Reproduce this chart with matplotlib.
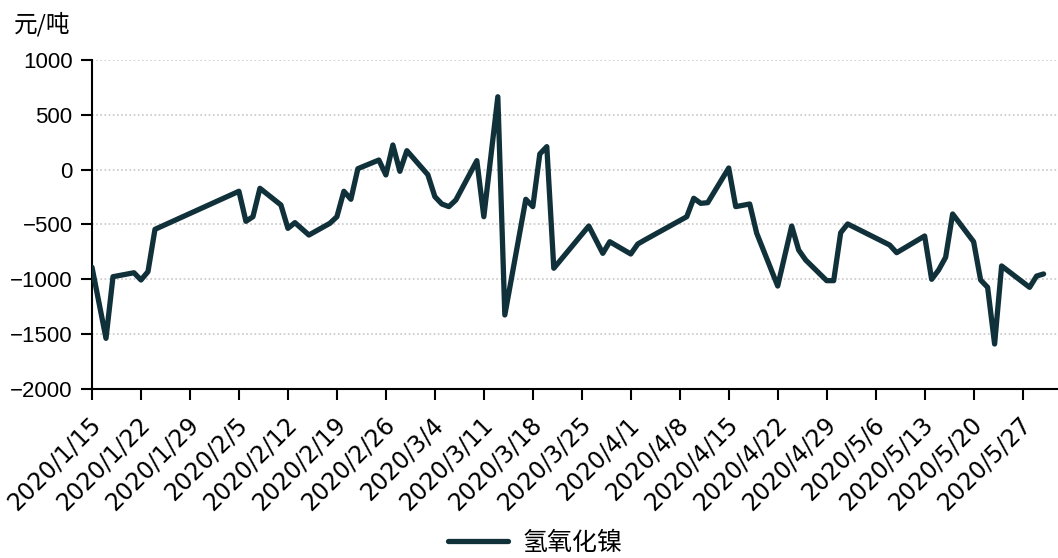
import matplotlib
matplotlib.use("Agg")
import matplotlib.pyplot as plt
import matplotlib.dates as mdates
import matplotlib.ticker as mticker
import matplotlib.transforms as mtransforms
import pandas as pd

# 氢氧化镍 价差 (元/吨)
dates = [
    "2020-01-15", "2020-01-17", "2020-01-18", "2020-01-21", "2020-01-22",
    "2020-01-23", "2020-01-24", "2020-02-05", "2020-02-06", "2020-02-07",
    "2020-02-08", "2020-02-11", "2020-02-12", "2020-02-13", "2020-02-15",
    "2020-02-18", "2020-02-19", "2020-02-20", "2020-02-21", "2020-02-22",
    "2020-02-25", "2020-02-26", "2020-02-27", "2020-02-28", "2020-02-29",
    "2020-03-03", "2020-03-04", "2020-03-05", "2020-03-06", "2020-03-07",
    "2020-03-10", "2020-03-11", "2020-03-13", "2020-03-14", "2020-03-17",
    "2020-03-18", "2020-03-19", "2020-03-20", "2020-03-21", "2020-03-26",
    "2020-03-28", "2020-03-29", "2020-04-01", "2020-04-02", "2020-04-03",
    "2020-04-09", "2020-04-10", "2020-04-11", "2020-04-12", "2020-04-15",
    "2020-04-16", "2020-04-18", "2020-04-19", "2020-04-22", "2020-04-24",
    "2020-04-25", "2020-04-26", "2020-04-29", "2020-04-30", "2020-05-01",
    "2020-05-02", "2020-05-08", "2020-05-09", "2020-05-13", "2020-05-14",
    "2020-05-15", "2020-05-16", "2020-05-17", "2020-05-20", "2020-05-21",
    "2020-05-22", "2020-05-23", "2020-05-24", "2020-05-28", "2020-05-29",
    "2020-05-30",
]
values = [
    -890, -1538, -976, -940, -1006,
    -930, -544, -197, -471, -429,
    -170, -322, -535, -483, -596,
    -489, -429, -197, -270, 9,
    88, -48, 225, -15, 173,
    -46, -246, -313, -337, -277,
    82, -429, 665, -1325, -270,
    -337, 143, 210, -899, -514,
    -763, -657, -769, -678, -641,
    -429, -261, -307, -301, 15,
    -337, -313, -580, -1061, -514,
    -733, -824, -1012, -1012, -575,
    -495, -687, -757, -605, -1000,
    -915, -799, -404, -657, -1006,
    -1073, -1590, -878, -1073, -970,
    -951,
]
series_name = "氢氧化镍"
unit_label = "元/吨"
y_ticks = [-2000, -1500, -1000, -500, 0, 500, 1000]

line_color = "#10313a"

x = pd.to_datetime(dates)

fig = plt.figure(figsize=(10.58, 5.58), dpi=100)
ax = fig.add_axes([92 / 1058, 1 - 389 / 558, 965 / 1058, 329 / 558])

ax.plot(x, values, color=line_color, lw=3.8, solid_joinstyle="round",
        solid_capstyle="round", label=series_name, zorder=3)

ax.set_xlim(pd.Timestamp("2020-01-15"), pd.Timestamp("2020-05-31 22:00"))
ax.set_ylim(-2000, 1000)
ax.set_yticks(y_ticks)
ax.yaxis.set_major_formatter(mticker.FuncFormatter(lambda v, p: f"{int(v)}".replace("-", "\u2212")))
ax.grid(axis="y", color="#c8c8c8", ls=(0, (1, 1.5)), lw=1.2, zorder=1)

ax.xaxis.set_major_locator(mdates.WeekdayLocator(byweekday=mdates.WE))
ax.xaxis.set_major_formatter(mticker.FuncFormatter(
    lambda v, p: "{0.year}/{0.month}/{0.day}".format(mdates.num2date(v))))

for s in ["top", "right"]:
    ax.spines[s].set_visible(False)
for s in ["left", "bottom"]:
    ax.spines[s].set_linewidth(1.5)
    ax.spines[s].set_color("black")

ax.tick_params(axis="y", direction="out", length=8, width=1.5, pad=6)
ax.tick_params(axis="x", direction="out", length=8, width=1.5, pad=15)
for lab in ax.get_yticklabels():
    lab.set_fontfamily("Liberation Sans")
    lab.set_fontsize(16)
# 标签整体右移几个像素
shift = mtransforms.ScaledTranslation(5 / 100, 0, fig.dpi_scale_trans)
for lab in ax.get_xticklabels():
    lab.set_fontfamily("DejaVu Sans")
    lab.set_fontsize(17)
    lab.set_rotation(45)
    lab.set_ha("right")
    lab.set_va("center")
    lab.set_rotation_mode("anchor")
    lab.set_transform(lab.get_transform() + shift)

fig.text(14 / 1058, 1 - 24 / 558, unit_label, fontsize=17,
         family=["Noto Sans CJK SC", "DejaVu Sans"], va="center", ha="left")

leg = fig.legend(loc="center", bbox_to_anchor=(535 / 1058, 1 - 543 / 558),
                 frameon=False, handlelength=2.4, handletextpad=0.6,
                 prop={"family": "Noto Sans CJK SC", "size": 18})

fig.savefig("out.png", dpi=100)
